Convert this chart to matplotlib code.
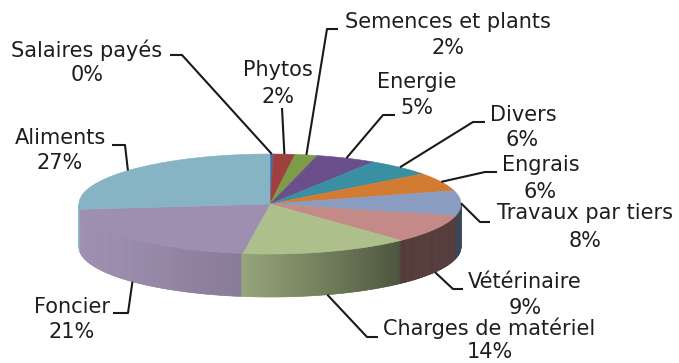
import numpy as np
import matplotlib
matplotlib.use("Agg")
import matplotlib.pyplot as plt
from matplotlib.patches import Polygon
from matplotlib.colors import to_rgb

# Cost breakdown (share of total, %)
categories = ["Salaires payés", "Phytos", "Semences et plants", "Energie", "Divers",
              "Engrais", "Travaux par tiers", "Vétérinaire", "Charges de matériel",
              "Foncier", "Aliments"]
values = [0.3, 1.8, 1.9, 5.1, 5.6, 6.0, 8.1, 9.2, 14.3, 21.0, 26.7]
colors = ["#3f6ea8", "#a0403e", "#7e9c48", "#6a4f8c", "#3a8fa2", "#d17c32",
          "#8a9cc0", "#c48a88", "#adc08c", "#9e8fb0", "#86b4c4"]

W, H = 679, 363
fig = plt.figure(figsize=(W / 100, H / 100), dpi=100)
ax = fig.add_axes([0, 0, 1, 1])
ax.set_xlim(0, W)
ax.set_ylim(H, 0)
ax.axis("off")

# Projected ellipse of the pie
cx, cy, a, b, depth = 270.0, 204.0, 191.0, 50.0, 43.0

total = float(sum(values))
cum = np.concatenate([[0.0], np.cumsum(values)]) / total
starts = 90.0 - 360.0 * cum[:-1]
ends = 90.0 - 360.0 * cum[1:]


def pt(phi_deg):
    t = np.radians(phi_deg)
    return cx + a * np.cos(t), cy - b * np.sin(t)


def slice_at(phi):
    p = ((90.0 - phi) % 360.0) / 360.0
    return int(np.clip(np.searchsorted(cum, p, side="right") - 1, 0, len(values) - 1))


# Side wall lighting by angle
shade_phi = [180, 225, 262, 290, 314, 360]
shade_f = [1.02, 0.97, 0.86, 0.63, 0.43, 0.45]

step = 0.5
for phi in np.arange(180.0, 360.0, step):
    mid = phi + step / 2
    i = slice_at(mid)
    f = np.interp(mid, shade_phi, shade_f)
    c = np.clip(np.array(to_rgb(colors[i])) * f, 0, 1)
    x1, y1 = pt(phi)
    x2, y2 = pt(phi + step + 0.15)
    poly = Polygon([(x1, y1), (x2, y2), (x2, y2 + depth), (x1, y1 + depth)],
                   closed=True, facecolor=c, edgecolor=c, lw=0.4)
    ax.add_patch(poly)

# Top faces
for i in range(len(values)):
    th = np.linspace(starts[i], ends[i], max(3, int(abs(starts[i] - ends[i]) * 2) + 2))
    xs, ys = pt(th)
    verts = [(cx, cy)] + list(zip(xs, ys))
    ax.add_patch(Polygon(verts, closed=True, facecolor=colors[i],
                         edgecolor=colors[i], lw=0.4))

# Labels: (line1 centre, line2 centre, leader path from the text side)
label_layout = [
    ((87, 50), (87, 75), [(170, 55), (182, 55)]),
    ((278, 70), (278, 97), [(282, 108)]),
    ((448, 22), (448, 48), [(338, 29), (327, 29)]),
    ((417, 82), (417, 108), [(395, 115), (383, 115)]),
    ((523, 115), (522, 140), [(485, 122), (473, 122)]),
    ((541, 165), (540, 192), [(497, 172), (485, 172)]),
    ((585, 213), (585, 241), [(490, 222), (480, 222)]),
    ((525, 282), (525, 308), [(463, 289), (453, 289)]),
    ((489, 328), (490, 352), [(378, 337), (367, 337)]),
    ((72, 307), (72, 332), [(113, 313), (128, 313)]),
    ((60, 138), (60, 163), [(112, 145), (125, 145)]),
]

txt_kw = dict(ha="center", va="center", fontsize=15, color="#1e1e1e",
              family="DejaVu Sans")
for i, name in enumerate(categories):
    (l1, l2, path) = label_layout[i]
    pct = f"{values[i] / total * 100:.0f}%"
    ax.text(l1[0], l1[1], name, **txt_kw)
    ax.text(l2[0], l2[1], pct, **txt_kw)
    mid = (starts[i] + ends[i]) / 2
    ax_, ay_ = pt(mid)
    if np.sin(np.radians(mid)) < 0:
        ay_ += depth
    xs = [p[0] for p in path] + [ax_]
    ys = [p[1] for p in path] + [ay_]
    ax.plot(xs, ys, color="#1a1a1a", lw=1.5, solid_capstyle="butt")

fig.savefig("out.png", dpi=100)
